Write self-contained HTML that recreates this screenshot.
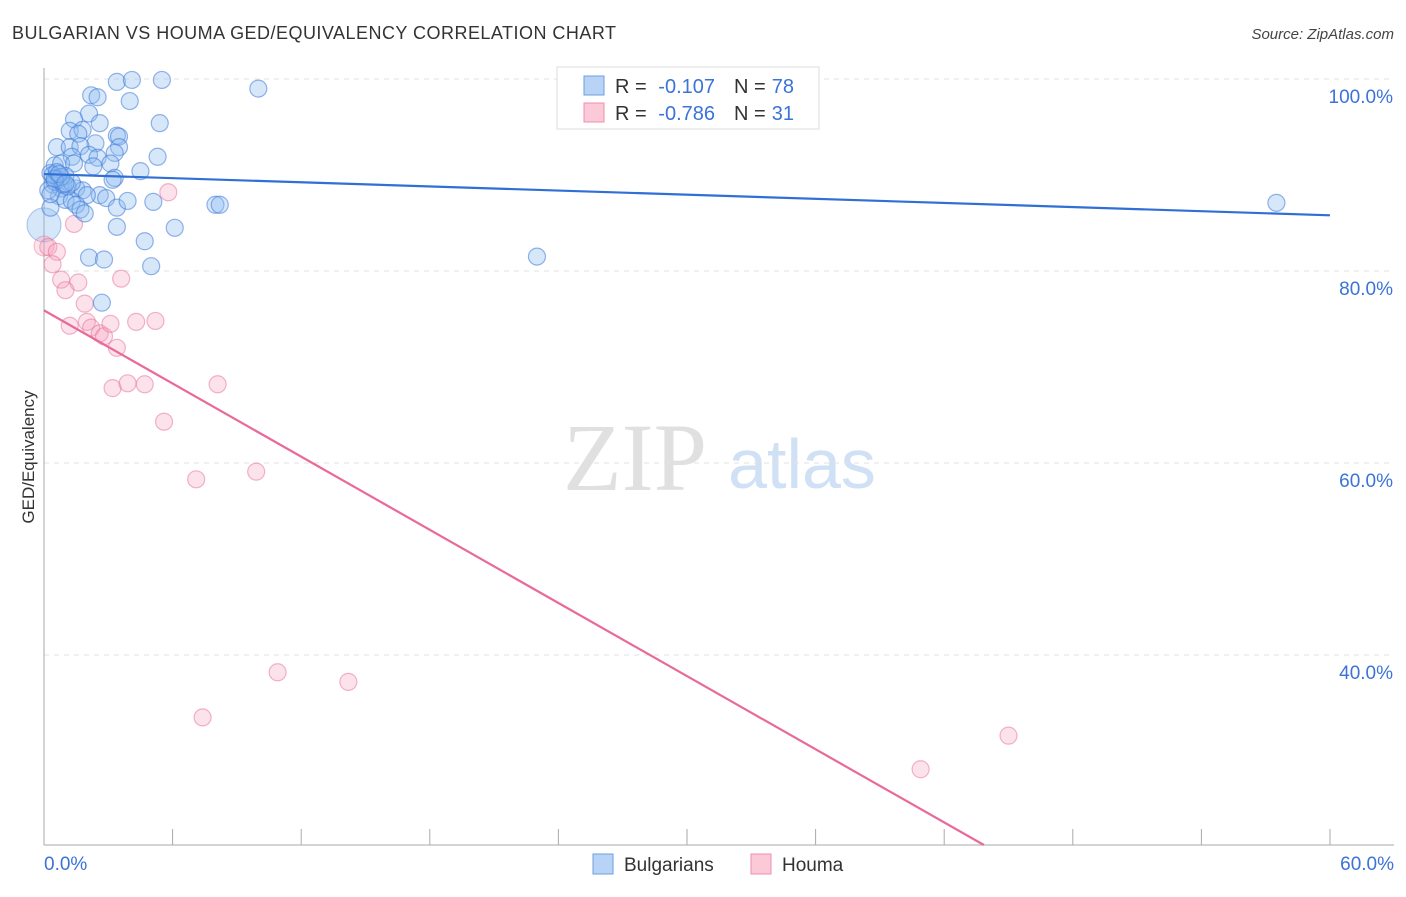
<!DOCTYPE html>
<html><head><meta charset="utf-8"><style>
body{margin:0;background:#fff;font-family:"Liberation Sans",sans-serif;}
</style></head><body>
<svg id="chart" width="1406" height="892" xmlns="http://www.w3.org/2000/svg" font-family="Liberation Sans, sans-serif">
<text x="12" y="39" font-size="18" fill="#333" textLength="604">BULGARIAN VS HOUMA GED/EQUIVALENCY CORRELATION CHART</text>
<text x="1394" y="39" font-size="15" fill="#444" text-anchor="end" font-style="italic">Source: ZipAtlas.com</text>
<g>
<text x="635" y="490" font-size="96" fill="#e0e0e0" font-family="Liberation Serif, serif" text-anchor="middle">ZIP</text>
<text x="802" y="488" font-size="70" fill="#d0e0f5" text-anchor="middle">atlas</text>
</g>
<g id="grid"></g>
<g id="axes"></g>
<g id="marks"></g>
<g>
<rect x="557" y="67" width="262" height="62" fill="#fff" stroke="#ddd"/>
<rect x="584" y="76" width="20" height="19" fill="#b8d3f5" stroke="#6a9fe0"/>
<rect x="584" y="103" width="20" height="19" fill="#fbc9d8" stroke="#ef8fae"/>
<text x="615" y="93" font-size="20" fill="#333">R =</text>
<text x="715" y="93" font-size="20" fill="#3b73d6" text-anchor="end">-0.107</text>
<text x="734" y="93" font-size="20" fill="#333">N =</text>
<text x="794" y="93" font-size="20" fill="#3b73d6" text-anchor="end">78</text>
<text x="615" y="120" font-size="20" fill="#333">R =</text>
<text x="715" y="120" font-size="20" fill="#3b73d6" text-anchor="end">-0.786</text>
<text x="734" y="120" font-size="20" fill="#333">N =</text>
<text x="794" y="120" font-size="20" fill="#3b73d6" text-anchor="end">31</text>
</g>
<g>
<rect x="593" y="854" width="20" height="20" fill="#b8d3f5" stroke="#6a9fe0"/>
<text x="624" y="871" font-size="19" fill="#333">Bulgarians</text>
<rect x="751" y="854" width="20" height="20" fill="#fbc9d8" stroke="#ef8fae"/>
<text x="782" y="871" font-size="19" fill="#333">Houma</text>
</g>
<text transform="translate(34,457) rotate(-90)" font-size="17" fill="#333" text-anchor="middle">GED/Equivalency</text>
</svg>
<script>
const blueX=[3.4,4.1,5.5,10.0,2.2,2.5,4.0,5.4,2.1,1.4,2.6,1.2,1.8,1.6,3.4,3.5,0.6,1.2,2.4,3.5,1.7,5.3,1.3,2.1,2.5,3.3,0.5,0.8,1.4,2.3,3.1,4.5,0.3,0.6,0.7,1.0,0.4,3.3,3.2,0.8,1.5,1.8,2.6,2.9,2.0,0.7,1.0,1.3,1.5,1.7,1.9,3.4,3.9,5.1,8.0,8.2,3.4,6.1,4.7,2.1,2.8,5.0,23.0,2.7,57.5,0.2,0.3,0.5,0.9,1.1,0.4,0.6,1.3,0.8,0.3,0.5,0.7,1.0];
const blueY=[99.7,99.9,99.9,99.0,98.3,98.1,97.7,95.4,96.4,95.8,95.4,94.6,94.7,94.3,94.1,94.0,92.9,92.9,93.3,92.9,93.0,91.9,91.9,92.1,91.8,92.3,91.0,91.2,91.2,90.9,91.2,90.4,90.2,89.7,89.5,89.9,89.0,89.7,89.5,88.6,88.6,88.4,87.9,87.6,87.9,87.8,87.4,87.3,86.9,86.4,86.0,86.6,87.3,87.2,86.9,86.9,84.6,84.5,83.1,81.4,81.2,80.5,81.5,76.7,87.1,88.4,86.6,89.3,89.0,88.8,90.0,90.3,89.2,89.8,88.0,89.6,90.1,89.1];
const pinkX=[5.8,1.4,0.2,0.6,0.4,0.8,1.6,1.0,3.6,1.9,1.2,2.0,2.2,2.6,2.8,3.1,4.3,5.2,3.4,3.2,3.9,4.7,8.1,5.6,7.1,9.9,10.9,14.2,7.4,45.0,40.9];
const pinkY=[88.2,84.9,82.5,82.0,80.7,79.1,78.8,78.0,79.2,76.6,74.3,74.7,74.1,73.5,73.2,74.5,74.7,74.8,72.0,67.8,68.3,68.2,68.2,64.3,58.3,59.1,38.2,37.2,33.5,31.6,28.1];
const blueTrend=[90.1,85.8];
const pinkTrend=[75.9,-1.27];
const yTicks=[100,80,60,40];
const xTickLabels=["0.0%","60.0%"];
const X0=44,X1=1330,YB=845;
const sx=v=>X0+v*(X1-X0)/60;
const sy=v=>79+(100-v)*9.6;
const NS='http://www.w3.org/2000/svg';
function mk(tag,attrs,parent){const e=document.createElementNS(NS,tag);for(const k in attrs)e.setAttribute(k,attrs[k]);parent.appendChild(e);return e;}
const grid=document.getElementById('grid'),axes=document.getElementById('axes'),marks=document.getElementById('marks');
yTicks.forEach(t=>{
 const l=mk('line',{x1:X0,x2:1394,y1:sy(t),y2:sy(t),stroke:'#e2e2e2','stroke-dasharray':'5,5'},grid);
 
 
 const tx=mk('text',{x:1393,y:sy(t)+24,'font-size':19,fill:'#3b73d6','text-anchor':'end'},axes);
 tx.textContent=t.toFixed(1)+'%';
 
 
});
const ya=mk('line',{x1:X0,x2:X0,y1:68,y2:YB,stroke:'#aaa'},axes);


const xa=mk('line',{x1:X0,x2:1394,y1:YB,y2:YB,stroke:'#aaa'},axes);


for(let i=0;i<=10;i++){
 const t=mk('line',{x1:sx(i*6),x2:sx(i*6),y1:YB,y2:YB-16,stroke:'#aaa'},axes);
 
 
}
[[0,'start',44],[60,'end',1394]].forEach((d,i)=>{
 const tx=mk('text',{x:d[2],y:870,'font-size':19,fill:'#3b73d6','text-anchor':d[1]},axes);
 tx.textContent=xTickLabels[i];
 
 
});
const bigB=mk('circle',{cx:sx(0),cy:sy(84.8),r:17,fill:'rgba(140,185,240,0.35)',stroke:'rgba(70,130,220,0.45)'},marks);


const bigP=mk('circle',{cx:sx(0),cy:sy(82.6),r:10,fill:'rgba(245,160,190,0.3)',stroke:'rgba(230,110,150,0.45)'},marks);


pinkX.forEach((x,i)=>{
 const c=mk('circle',{cx:sx(x),cy:sy(pinkY[i]),r:8.5,fill:'rgba(245,160,190,0.3)',stroke:'rgba(230,110,150,0.5)','stroke-width':1.2},marks);
 
 
});
blueX.forEach((x,i)=>{
 const c=mk('circle',{cx:sx(x),cy:sy(blueY[i]),r:8.5,fill:'rgba(140,185,240,0.35)',stroke:'rgba(60,120,215,0.55)','stroke-width':1.2},marks);
 
 
});
const bl=mk('line',{x1:sx(0),y1:sy(blueTrend[0]),x2:sx(60),y2:sy(blueTrend[1]),stroke:'#2f6fd6','stroke-width':2.2},marks);


const ymin=100-(YB-79)/9.6;
const xe=(ymin-pinkTrend[0])/pinkTrend[1];
const pl=mk('line',{x1:sx(0),y1:sy(pinkTrend[0]),x2:sx(xe),y2:sy(ymin),stroke:'#e8699a','stroke-width':2.2},marks);


</script>
</body></html>
